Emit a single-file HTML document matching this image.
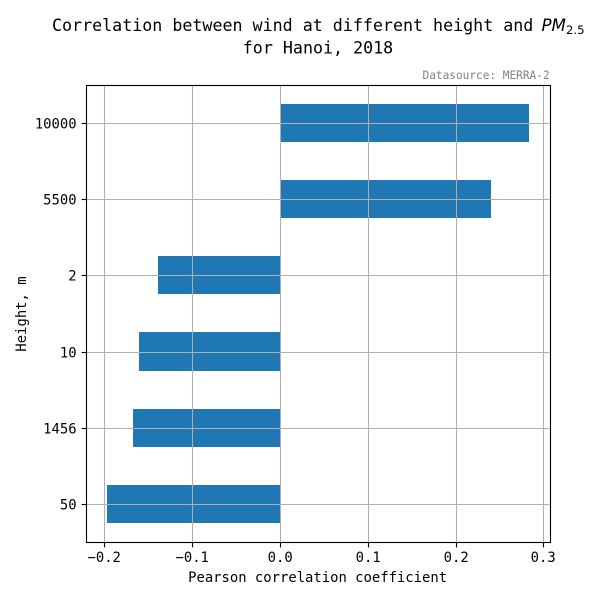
<!DOCTYPE html>
<html>
<head>
<meta charset="utf-8">
<style>
html,body{margin:0;padding:0;background:#fff;width:600px;height:600px;overflow:hidden}
svg{display:block}
text{font-family:"DejaVu Sans Mono","Liberation Mono",monospace;fill:#000}
</style>
</head>
<body>
<svg id="chart" width="600" height="600" viewBox="0 0 600 600" xmlns="http://www.w3.org/2000/svg">
<text x="52" y="31" font-size="16.67">Correlation between wind at different height and <tspan font-family="'DejaVu Sans',sans-serif" font-style="italic" x="541.5">PM</tspan><tspan font-family="'DejaVu Sans',sans-serif" font-size="11.67" dy="3" x="566">2.5</tspan></text>
<text x="318" y="53.5" font-size="16.67" text-anchor="middle">for Hanoi, 2018</text>
<text x="549.6" y="79" font-size="11.11" text-anchor="end" style="fill:#808080">Datasource: MERRA-2</text>
<text x="317.6" y="582" font-size="13.89" text-anchor="middle">Pearson correlation coefficient</text>
<text transform="translate(26,314) rotate(-90)" font-size="13.89" text-anchor="middle">Height, m</text>
<g id="bars"></g>
<g id="grid"></g>
<g id="ticks"></g>
<rect x="86.5" y="85.5" width="464" height="457" fill="none" stroke="#000" stroke-width="1.1"/>
</svg>
<script>
const categories = ["50", "1456", "10", "2", "5500", "10000"];
const correlations = [-0.1976, -0.168, -0.161, -0.1395, 0.2397, 0.283];
const xTickValues = [-0.2, -0.1, 0.0, 0.1, 0.2, 0.3];
const xTickLabels = ["\u22120.2", "\u22120.1", "0.0", "0.1", "0.2", "0.3"];

const NS = "http://www.w3.org/2000/svg";
const plotLeft = 86.5, plotRight = 550.5, plotTop = 85.5, plotBottom = 542.5;
function xScale(v) { return 280.5 + v * 878; }
function yScale(i) { return 504.2 - i * 76.1; }
function snap(p) { return Math.floor(p) + 0.5; }
function make(tag, attrs, parent) {
  const el = document.createElementNS(NS, tag);
  for (const k in attrs) el.setAttribute(k, attrs[k]);
  parent.appendChild(el);
  return el;
}
const barsG = document.getElementById("bars");
const gridG = document.getElementById("grid");
const ticksG = document.getElementById("ticks");

categories.forEach(function (cat, i) {
  const x0 = Math.round(xScale(0)), x1 = Math.round(xScale(correlations[i])), yc = yScale(i);
  const top = Math.round(yc - 19.6), bottom = Math.round(yc + 18.5), y = snap(yc);
  const bar = make("rect", { x: Math.min(x0, x1), y: top, width: Math.abs(x1 - x0), height: bottom - top, fill: "#1f77b4" }, barsG);
  
  
  const gl = make("line", { x1: plotLeft, x2: plotRight, y1: y, y2: y, stroke: "#b0b0b0", "stroke-width": 1.1 }, gridG);
  
  
  const t = make("line", { x1: plotLeft - 4.9, x2: plotLeft, y1: y, y2: y, stroke: "#000", "stroke-width": 1.1 }, ticksG);
  
  
  const lb = make("text", { x: 76.6, y: y + 5, "font-size": 13.89, "text-anchor": "end" }, ticksG);
  
  
  lb.textContent = cat;
});

xTickValues.forEach(function (v, i) {
  const x = snap(xScale(v));
  const gl = make("line", { x1: x, x2: x, y1: plotTop, y2: plotBottom, stroke: "#b0b0b0", "stroke-width": 1.1 }, gridG);
  
  
  const t = make("line", { x1: x, x2: x, y1: plotBottom, y2: plotBottom + 4.9, stroke: "#000", "stroke-width": 1.1 }, ticksG);
  
  
  const lb = make("text", { x: x - 0.3, y: 562, "font-size": 13.89, "text-anchor": "middle" }, ticksG);
  
  
  lb.textContent = xTickLabels[i];
});
</script>
</body>
</html>
